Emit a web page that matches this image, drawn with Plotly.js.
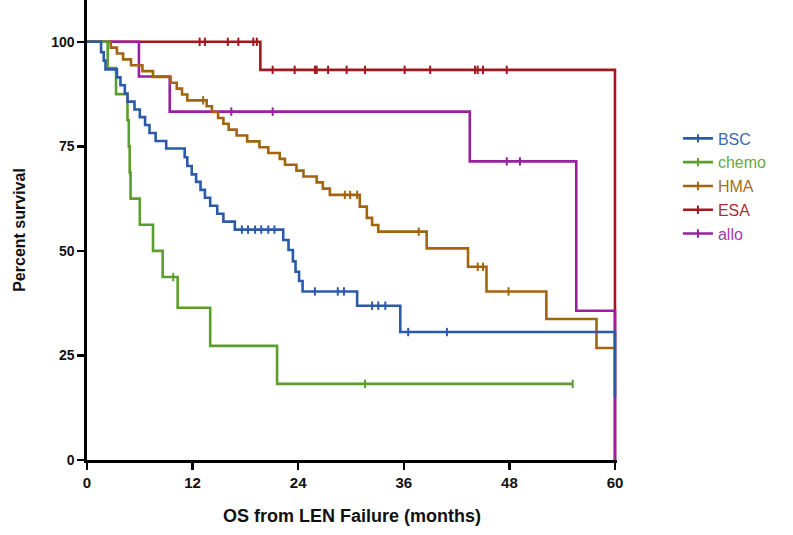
<!DOCTYPE html>
<html>
<head>
<meta charset="utf-8">
<script src="https://cdn.plot.ly/plotly-3.0.1.min.js"></script>
<style>html,body{margin:0;padding:0;background:#fff;}#chart{width:793px;height:535px;}</style>
</head>
<body>
<div id="chart"></div>
<script>
// ---- Data (months, percent survival) ----
var seriesNames = ["BSC", "chemo", "HMA", "ESA", "allo"];

var bscTime = [0, 1.6, 1.9, 2.1, 3.4, 3.8, 4.3, 4.6, 5.4, 6.0, 6.6, 7.1, 7.8, 9.0, 11.1, 11.4, 11.9, 12.4, 12.9, 13.4, 14.0, 14.8, 15.5, 16.8, 22.3, 22.9, 23.4, 23.7, 24.1, 24.5, 30.7, 35.6, 60];
var bscSurv = [100, 97.5, 95.5, 93.4, 91.5, 89.6, 87.6, 85.7, 83.8, 82.0, 80.1, 78.2, 76.3, 74.5, 72.4, 70.3, 68.3, 66.5, 64.6, 62.7, 60.8, 58.9, 57.0, 55.1, 52.6, 50.2, 47.5, 45.0, 42.8, 40.3, 36.9, 30.6, 15];
var bscCensor = [17.6, 18.3, 19.1, 19.8, 20.6, 21.3, 25.9, 28.5, 29.2, 32.4, 33.1, 33.9, 36.5, 40.9];

var chemoTime = [0, 2.35, 3.3, 4.6, 4.75, 4.85, 4.95, 6.0, 7.5, 8.6, 10.3, 14.0, 21.6, 55.2];
var chemoSurv = [100, 93.75, 87.5, 81.25, 75, 68.75, 62.5, 56.25, 50, 43.75, 36.4, 27.3, 18.2, 18.2];
var chemoCensor = [4.9, 9.8, 31.6, 55.2];

var hmaTime = [0, 2.7, 3.4, 4.1, 5.0, 6.3, 7.5, 9.5, 10.2, 10.8, 11.4, 13.6, 14.2, 14.9, 15.5, 16.1, 17.0, 18.2, 19.6, 20.6, 21.9, 22.5, 23.8, 24.6, 26.1, 26.8, 27.6, 31.0, 31.8, 32.4, 33.1, 38.6, 43.3, 45.4, 52.2, 57.9, 60];
var hmaSurv = [100, 98.6, 97.2, 95.8, 94.4, 93.0, 91.6, 90.2, 88.8, 87.4, 86.0, 84.6, 83.2, 81.8, 80.4, 79.0, 77.6, 76.2, 74.8, 73.4, 72.0, 70.6, 69.2, 67.8, 66.4, 64.9, 63.4, 60.6, 57.9, 56.2, 54.6, 50.6, 46.2, 40.3, 33.7, 26.8, 26.8];
var hmaCensor = [13.2, 29.3, 29.9, 30.7, 37.7, 44.4, 45.0, 47.9];

var esaTime = [0, 19.7, 60];
var esaSurv = [100, 93.3, 0];
var esaCensor = [12.8, 13.4, 16.0, 17.2, 18.9, 19.3, 21.1, 23.6, 25.9, 26.1, 27.4, 29.5, 31.6, 36.1, 39.0, 44.1, 44.4, 45.0, 47.7];

var alloTime = [0, 5.9, 9.4, 43.5, 55.6, 60];
var alloSurv = [100, 91.7, 83.3, 71.4, 35.7, 0];
var alloCensor = [16.4, 21.1, 47.7, 49.2];

var xTicks = [0, 12, 24, 36, 48, 60];
var yTicks = [0, 25, 50, 75, 100];

// ---- Styles ----
var lineColors = {BSC: "#2b5ba8", chemo: "#5c9e2e", HMA: "#a3640f", ESA: "#a3171e", allo: "#9b1fa3"};
var textColors = {BSC: "#3b69b3", chemo: "#67a843", HMA: "#a56b1f", ESA: "#ad2e37", allo: "#a03aa7"};

var series = {
  BSC: {t: bscTime, s: bscSurv, c: bscCensor},
  chemo: {t: chemoTime, s: chemoSurv, c: chemoCensor},
  HMA: {t: hmaTime, s: hmaSurv, c: hmaCensor},
  ESA: {t: esaTime, s: esaSurv, c: esaCensor},
  allo: {t: alloTime, s: alloSurv, c: alloCensor}
};

function survAt(times, surv, t) {
  var v = surv[0];
  for (var i = 0; i < times.length; i++) {
    if (times[i] <= t) v = surv[i]; else break;
  }
  return v;
}

var drawOrder = ["ESA", "allo", "HMA", "chemo", "BSC"];
var traces = [];
drawOrder.forEach(function (n) {
  var d = series[n];
  traces.push({
    type: "scatter", mode: "lines", x: d.t, y: d.s,
    line: {shape: "hv", color: lineColors[n], width: 2.6},
    showlegend: false, hoverinfo: "skip"
  });
  traces.push({
    type: "scatter", mode: "markers", x: d.c,
    y: d.c.map(function (t) { return survAt(d.t, d.s, t); }),
    marker: {symbol: "line-ns-open", size: 6, color: lineColors[n], line: {color: lineColors[n], width: 2}},
    showlegend: false, hoverinfo: "skip"
  });
});
// legend entries
seriesNames.forEach(function (n) {
  traces.push({
    type: "scatter", mode: "lines+markers", x: [null], y: [null],
    name: '<span style="color:' + textColors[n] + '">' + n + '</span>',
    line: {color: lineColors[n], width: 2.6},
    marker: {symbol: "line-ns-open", size: 6, color: lineColors[n], line: {color: lineColors[n], width: 2}}
  });
});

var layout = {
  width: 793, height: 535,
  margin: {l: 87, r: 176, t: 0, b: 75},
  paper_bgcolor: "#fff", plot_bgcolor: "#fff",
  showlegend: true,
  legend: {
    x: 1.115, y: 0.736, xanchor: "left", yanchor: "top",
    font: {family: "Liberation Sans, Arial, sans-serif", size: 16},
    bgcolor: "rgba(0,0,0,0)"
  },
  xaxis: {
    range: [0, 60.23], tickvals: xTicks, ticktext: xTicks.map(String),
    showgrid: false, zeroline: false,
    showline: true, linecolor: "#000", linewidth: 2.6,
    ticks: "outside", ticklen: 7, tickwidth: 2.4, tickcolor: "#000",
    tickfont: {family: "Liberation Sans, Arial, sans-serif", size: 15, color: "#111", weight: "bold"},
    title: {text: "OS from LEN Failure (months)", standoff: 20,
      font: {family: "Liberation Sans, Arial, sans-serif", size: 18, color: "#111", weight: "bold"}}
  },
  yaxis: {
    range: [0, 110], tickvals: yTicks, ticktext: yTicks.map(String),
    showgrid: false, zeroline: false,
    showline: true, linecolor: "#000", linewidth: 2.6,
    ticks: "outside", ticklen: 7, tickwidth: 2.4, tickcolor: "#000",
    tickfont: {family: "Liberation Sans, Arial, sans-serif", size: 14, color: "#111", weight: "bold"},
    title: {text: "Percent survival", standoff: 22,
      font: {family: "Liberation Sans, Arial, sans-serif", size: 16, color: "#111", weight: "bold"}}
  }
};

Plotly.newPlot("chart", traces, layout, {displayModeBar: false, staticPlot: true});
</script>
</body>
</html>
